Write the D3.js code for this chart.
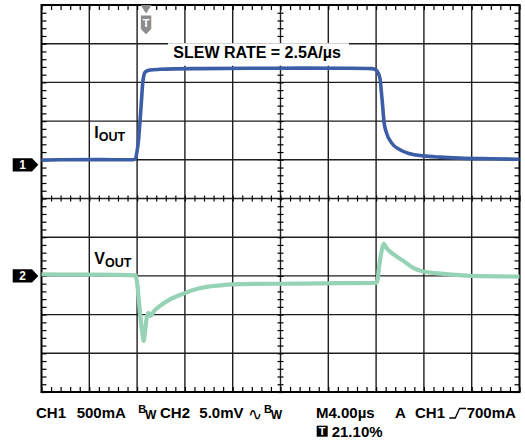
<!DOCTYPE html>
<html>
<head>
<meta charset="utf-8">
<script src="https://cdn.jsdelivr.net/npm/d3@7"></script>
<style>
  body { margin: 0; background: #fff; }
  svg { display: block; font-family: "Liberation Sans", Arial, sans-serif; font-weight: bold; }
</style>
</head>
<body>
<div id="chart-area"></div>
<script>
// channel 1: load current in A (500 mA/div), time in µs
const ch1Time = [0, 1.55, 4.9, 7.66, 7.87, 7.99, 8.12, 8.24, 8.37, 8.45, 8.54, 8.66, 8.83, 9.08, 9.92, 11.17, 13.26, 17.45, 21.63, 25.82,
    27.66, 27.99, 28.16, 28.33, 28.41, 28.54, 28.66, 28.87, 29.29, 30.0, 30.84, 31.92, 33.35, 35.02, 37.53, 40]
const ch1Amps = [0.061, 0.065, 0.067, 0.065, 0.084, 0.168, 0.323, 0.556, 0.840, 1.021, 1.137, 1.195, 1.214, 1.224, 1.234, 1.240, 1.243, 1.247, 1.249, 1.247,
    1.243, 1.227, 1.189, 1.111, 0.995, 0.775, 0.556, 0.413, 0.284, 0.194, 0.142, 0.116, 0.099, 0.087, 0.078, 0.071]

// channel 2: output voltage in mV, AC coupled (5 mV/div)
const ch2Time = [0, 3.22, 6.57, 7.87, 8.02, 8.18, 8.33, 8.47, 8.54, 8.66, 8.80, 8.94, 9.14, 9.36, 9.92, 10.75, 11.59, 12.70, 13.82, 14.94,
    16.03, 18.28, 21.63, 24.98, 27.99, 28.12, 28.24, 28.38, 28.54, 28.66, 28.89, 29.44, 30.28, 31.11, 31.95, 33.62, 36.13, 40]
const ch2MilliVolts = [0.19, 0.16, 0.13, 0.06, -1.16, -3.75, -6.07, -7.75, -8.40, -7.24, -5.43, -4.78, -5.17, -4.65, -3.88, -3.04, -2.46, -1.81, -1.42, -1.23,
    -1.10, -1.03, -1.00, -0.94, -0.90, -0.52, 1.03, 2.49, 3.75, 4.13, 3.58, 2.80, 1.94, 1.03, 0.56, 0.26, 0.00, -0.09]

const ch1Label = ["I", "OUT"]
const ch2Label = ["V", "OUT"]
const slewText = "SLEW RATE = 2.5A/µs"
const readoutTop = ["CH1", "500mA", "CH2", "5.0mV", "M4.00µs", "A", "CH1", "700mA"]
const readoutBottom = "21.10%"

const TIME_PER_DIV = 4
const CH1_PER_DIV = 0.5
const CH2_PER_DIV = 5
const CH1_ZERO_DIV = 5.87
const CH2_ZERO_DIV = 3
const TRIGGER_TIME = 8.75

// layout
const totalWidth = 525
const totalHeight = 440
const PLOT = {LEFT: 41.5, RIGHT: 519.5, TOP: 5, BOTTOM: 392}
const DIVS = 10
const READOUT_X = [36, 76.7, 160, 199.3, 316, 395, 415, 466.7]

const svg = d3.select("#chart-area")
    .append("svg")
    .attr("width", totalWidth)
    .attr("height", totalHeight)

const divX = d3.scaleLinear().domain([0, DIVS]).range([PLOT.LEFT, PLOT.RIGHT])
const divY = d3.scaleLinear().domain([0, DIVS]).range([PLOT.BOTTOM, PLOT.TOP])
const xScale = d3.scaleLinear()
    .domain([0, DIVS * TIME_PER_DIV])
    .range([PLOT.LEFT, PLOT.RIGHT])
const y1Scale = d3.scaleLinear()
    .domain([-CH1_ZERO_DIV * CH1_PER_DIV, (DIVS - CH1_ZERO_DIV) * CH1_PER_DIV])
    .range([PLOT.BOTTOM, PLOT.TOP])
const y2Scale = d3.scaleLinear()
    .domain([-CH2_ZERO_DIV * CH2_PER_DIV, (DIVS - CH2_ZERO_DIV) * CH2_PER_DIV])
    .range([PLOT.BOTTOM, PLOT.TOP])

// graticule
const grid = svg.append("g")
    .attr("stroke", "#1e1e1e")
    .attr("stroke-width", 1.4)

grid.selectAll(".vline")
    .data(d3.range(1, DIVS))
    .join("line")
    .attr("class", "vline")
    .attr("x1", d => divX(d)).attr("x2", d => divX(d))
    .attr("y1", PLOT.TOP).attr("y2", PLOT.BOTTOM)

grid.selectAll(".hline")
    .data(d3.range(1, DIVS))
    .join("line")
    .attr("class", "hline")
    .attr("y1", d => divY(d)).attr("y2", d => divY(d))
    .attr("x1", PLOT.LEFT).attr("x2", PLOT.RIGHT)

const minorTicks = d3.range(0, DIVS * 5 + 1).map(i => i / 5)

const addTicks = function(axis, transform, size) {
    svg.append("g")
        .attr("transform", transform)
        .call(axis.tickValues(minorTicks).tickSize(size).tickSizeOuter(0).tickFormat(""))
        .call(g => g.select(".domain").remove())
        .selectAll("line")
        .attr("stroke", "#000")
        .attr("stroke-width", 1.2)
}

addTicks(d3.axisRight(divY), `translate(${PLOT.LEFT}, 0)`, 5)
addTicks(d3.axisLeft(divY), `translate(${PLOT.RIGHT}, 0)`, 5)
addTicks(d3.axisBottom(divX), `translate(0, ${PLOT.TOP})`, 5)
addTicks(d3.axisTop(divX), `translate(0, ${PLOT.BOTTOM})`, 5)
addTicks(d3.axisLeft(divY), `translate(${divX(5)}, 0)`, 3)
addTicks(d3.axisRight(divY), `translate(${divX(5)}, 0)`, 3)
addTicks(d3.axisTop(divX), `translate(0, ${divY(5)})`, 3)
addTicks(d3.axisBottom(divX), `translate(0, ${divY(5)})`, 3)

svg.append("rect")
    .attr("x", PLOT.LEFT).attr("y", PLOT.TOP)
    .attr("width", PLOT.RIGHT - PLOT.LEFT)
    .attr("height", PLOT.BOTTOM - PLOT.TOP)
    .attr("fill", "none")
    .attr("stroke", "#000")
    .attr("stroke-width", 2)

// slew rate annotation with white backing
svg.append("rect")
    .attr("x", 168).attr("y", 43.2)
    .attr("width", 181).attr("height", 22.5)
    .attr("fill", "#fff")

svg.append("text")
    .attr("x", 173.3).attr("y", 58.3)
    .attr("font-size", "16px")
    .text(slewText)

// traces
const line1 = d3.line()
    .x(d => xScale(d[0]))
    .y(d => y1Scale(d[1]))
    .curve(d3.curveMonotoneX)

const line2 = d3.line()
    .x(d => xScale(d[0]))
    .y(d => y2Scale(d[1]))
    .curve(d3.curveMonotoneX)

svg.append("path")
    .datum(d3.zip(ch2Time, ch2MilliVolts))
    .attr("fill", "none")
    .attr("stroke", "#96d2b5")
    .attr("stroke-width", 4.2)
    .attr("stroke-linejoin", "round")
    .attr("d", line2)

svg.append("path")
    .datum(d3.zip(ch1Time, ch1Amps))
    .attr("fill", "none")
    .attr("stroke", "#3c5ea6")
    .attr("stroke-width", 3.6)
    .attr("stroke-linejoin", "round")
    .attr("d", line1)

// channel labels
const addLabel = function(parts, x, y) {
    const t = svg.append("text").attr("x", x).attr("y", y)
    t.append("tspan").attr("font-size", "16px").text(parts[0])
    t.append("tspan").attr("font-size", "12.5px").attr("dy", 2.5).text(parts[1])
}
addLabel(ch1Label, 94.3, 138.3)
addLabel(ch2Label, 94.3, 264)

// channel ground markers
const addMarker = function(yPos, label) {
    svg.append("path")
        .attr("d", `M12.7,${yPos - 6.7}H32L38.3,${yPos}L32,${yPos + 6.7}H12.7Z`)
        .attr("fill", "#000")
    svg.append("text")
        .attr("x", 22.5).attr("y", yPos + 4.3)
        .attr("text-anchor", "middle")
        .attr("font-size", "12px")
        .attr("fill", "#fff")
        .text(label)
}
addMarker(y1Scale(0), "1")
addMarker(y2Scale(0), "2")

// trigger position marker
const tx = xScale(TRIGGER_TIME)
svg.append("path")
    .attr("d", `M${tx - 5.5},${PLOT.TOP}H${tx + 5.5}L${tx},${PLOT.TOP + 8.5}Z`)
    .attr("fill", "#8c8c8c")
svg.append("path")
    .attr("d", `M${tx - 5.2},15.5H${tx + 5.2}V29L${tx},34.2L${tx - 5.2},29Z`)
    .attr("fill", "#8c8c8c")
svg.append("text")
    .attr("x", tx).attr("y", 26.6)
    .attr("text-anchor", "middle")
    .attr("font-size", "11.5px")
    .attr("fill", "#fff")
    .text("T")

// readout
const readout = svg.append("g").attr("font-size", "15px")
readout.selectAll(".ro")
    .data(readoutTop)
    .join("text")
    .attr("class", "ro")
    .attr("x", (d, i) => READOUT_X[i])
    .attr("y", 418)
    .text(d => d)

const addBw = function(x) {
    readout.append("text").attr("x", x).attr("y", 413.3).attr("font-size", "11px").text("B")
    readout.append("text").attr("x", x + 6.8).attr("y", 419).attr("font-size", "12px").text("W")
}
addBw(138.3)
addBw(264)

readout.append("text")
    .attr("x", 248).attr("y", 420)
    .attr("font-family", "DejaVu Sans")
    .attr("font-weight", "normal")
    .attr("font-size", "17px")
    .text("∿")

readout.append("path")
    .attr("d", "M449.3,418H455.3L459.5,408.5H466")
    .attr("fill", "none")
    .attr("stroke", "#000")
    .attr("stroke-width", 1.3)

readout.append("rect")
    .attr("x", 316.7).attr("y", 425.7)
    .attr("width", 11).attr("height", 11)
    .attr("fill", "#000")
readout.append("text")
    .attr("x", 322.2).attr("y", 435)
    .attr("text-anchor", "middle")
    .attr("font-size", "11px")
    .attr("fill", "#fff")
    .text("T")
readout.append("text")
    .attr("x", 331.7).attr("y", 436.7)
    .text(readoutBottom)
</script>
</body>
</html>
